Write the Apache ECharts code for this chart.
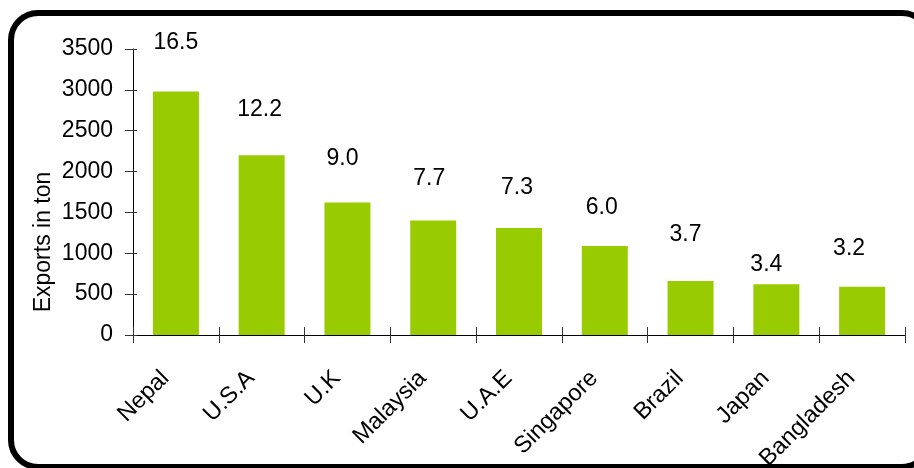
<!DOCTYPE html>
<html>
<head>
<meta charset="utf-8">
<script src="https://cdn.jsdelivr.net/npm/echarts@6/dist/echarts.min.js"></script>
<style>
html,body{margin:0;padding:0;background:#fff;}
#chart{width:914px;height:468px;}
</style>
</head>
<body>
<div id="chart"></div>
<script>
// ---- data ----
const titleText = "Country-wise share of jaggery exports (%)";
const yAxisName = "Exports in ton";
const categories = ["Nepal", "U.S.A", "U.K", "Malaysia", "U.A.E", "Singapore", "Brazil", "Japan", "Bangladesh"];
const exportsTon = [2980, 2200, 1620, 1400, 1310, 1090, 660, 620, 590];
const sharePct = ["16.5", "12.2", "9.0", "7.7", "7.3", "6.0", "3.7", "3.4", "3.2"];
const yTicks = [0, 500, 1000, 1500, 2000, 2500, 3000, 3500];

// ---- label placement (style only) ----
const labelOffsets = [[0,-34],[-2,-31],[-5,-29],[-4,-27],[-2,-26],[-3,-24],[-5,-32],[-10,-5],[-13,-24]];

const FONT = "'Liberation Sans', Arial, Helvetica, sans-serif";
const FS = 23;
const chart = echarts.init(document.getElementById('chart'), null, {renderer: 'canvas'});

const barData = exportsTon.map((v, i) => ({
  value: v,
  label: { offset: labelOffsets[i] }
}));

const option = {
  backgroundColor: '#ffffff',
  animation: false,
  title: {
    text: titleText,
    left: 'center',
    top: -27,
    textStyle: { color: '#2E9B6E', fontSize: 22, fontWeight: 'bold', fontFamily: FONT }
  },
  grid: { left: 133, right: 9, top: 49, bottom: 133, containLabel: false, outerBoundsMode: 'none' },
  xAxis: [{
    type: 'category',
    data: categories,
    position: 'bottom',
    axisLine: { show: true, lineStyle: { color: '#000', width: 1 } },
    axisTick: { show: true, alignWithLabel: false, length: 8, lineStyle: { color: '#333' } },
    axisLabel: { rotate: 45, margin: 29, fontSize: 23.5, color: '#000', fontFamily: FONT, interval: 0, padding: [0, 15, 30, 0] },
    splitLine: { show: false }
  }, {
    type: 'category',
    data: categories,
    position: 'bottom',
    axisLine: { show: false },
    axisTick: { show: true, inside: true, length: 8, lineStyle: { color: '#333' } },
    axisLabel: { show: false },
    splitLine: { show: false }
  }],
  yAxis: [{
    type: 'value',
    min: yTicks[0],
    max: yTicks[yTicks.length - 1],
    interval: yTicks[1] - yTicks[0],
    name: yAxisName,
    nameLocation: 'middle',
    nameGap: 78,
    nameMoveOverlap: false,
    nameTextStyle: { fontSize: FS, color: '#000', fontFamily: FONT, padding: [0, 100, 0, 0] },
    axisLine: { show: true, lineStyle: { color: '#000', width: 1 } },
    axisTick: { show: true, length: 8, lineStyle: { color: '#333' } },
    axisLabel: { margin: 20, fontSize: FS, color: '#000', fontFamily: FONT, formatter: (v) => String(v) },
    splitLine: { show: false }
  }, {
    type: 'value',
    position: 'left',
    min: yTicks[0],
    max: yTicks[yTicks.length - 1],
    interval: yTicks[1] - yTicks[0],
    axisLine: { show: false },
    axisTick: { show: true, inside: true, length: 4, lineStyle: { color: '#333' } },
    axisLabel: { show: false },
    splitLine: { show: false }
  }],
  series: [{
    type: 'bar',
    xAxisIndex: 0,
    yAxisIndex: 0,
    data: barData,
    barWidth: 46,
    itemStyle: { color: '#99CC00' },
    label: {
      show: true,
      position: 'top',
      distance: 3,
      fontSize: FS,
      color: '#000',
      fontFamily: FONT,
      formatter: (p) => sharePct[p.dataIndex]
    }
  }],
  graphic: [{
    type: 'rect',
    shape: { x: 11, y: 13, width: 918, height: 454, r: 27 },
    style: { fill: 'none', stroke: '#000', lineWidth: 6 },
    silent: true,
    z: 100
  }]
};
chart.setOption(option);
</script>
</body>
</html>
